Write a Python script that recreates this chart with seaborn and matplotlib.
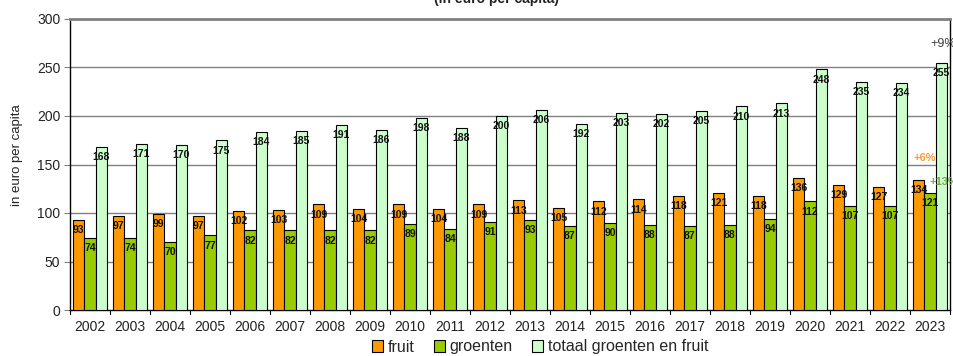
import matplotlib
matplotlib.use("Agg")
import matplotlib.pyplot as plt
import seaborn as sns
import pandas as pd
from matplotlib.patches import Patch

years = [str(y) for y in range(2002, 2024)]
fruit = [93, 97, 99, 97, 102, 103, 109, 104, 109, 104, 109, 113, 105, 112, 114, 118, 121, 118, 136, 129, 127, 134]
groenten = [74, 74, 70, 77, 82, 82, 82, 82, 89, 84, 91, 93, 87, 90, 88, 87, 88, 94, 112, 107, 107, 121]
totaal = [168, 171, 170, 175, 184, 185, 191, 186, 198, 188, 200, 206, 192, 203, 202, 205, 210, 213, 248, 235, 234, 255]
series_names = ["fruit", "groenten", "totaal groenten en fruit"]
series_colors = ["#FF9900", "#99CC00", "#CCFFCC"]

df = pd.DataFrame({
    "jaar": years * 3,
    "reeks": [series_names[0]] * len(years) + [series_names[1]] * len(years) + [series_names[2]] * len(years),
    "waarde": fruit + groenten + totaal,
})

sns.set_theme(style="white")
plt.rcParams["font.family"] = ["Liberation Sans", "DejaVu Sans"]

fig = plt.figure(figsize=(9.54, 3.56), dpi=100)
ax = fig.add_axes([70 / 954, 1 - 310 / 356, 880 / 954, 291 / 356])

sns.barplot(data=df, x="jaar", y="waarde", hue="reeks", palette=series_colors,
            width=0.85, gap=0, edgecolor="black", linewidth=0.8, saturation=1,
            legend=False, ax=ax, zorder=3)

ax.set_xlim(-0.5, len(years) - 0.5)
ax.set_ylim(0, 300)
ax.set_yticks([0, 50, 100, 150, 200, 250, 300])
ax.set_xticks(range(len(years)))
ax.set_xticklabels(years, fontsize=10, color="#222222")
ax.tick_params(axis="x", length=0, pad=7)
ax.tick_params(axis="y", labelsize=10, labelcolor="#222222", length=4, width=0.8, color="#808080", pad=3, direction="out", left=True)

# group separators on the category axis
for b in range(len(years) + 1):
    ax.plot([b - 0.5, b - 0.5], [0, -0.013], transform=ax.get_xaxis_transform(),
            color="black", lw=0.8, clip_on=False)

for yv in [50, 100, 150, 200, 250]:
    ax.axhline(yv, color="#808080", lw=1.0, zorder=1)

for side in ["left", "bottom", "right"]:
    ax.spines[side].set_color("black")
    ax.spines[side].set_linewidth(1.0)
ax.spines["top"].set_color("#808080")
ax.spines["top"].set_linewidth(2.0)

ax.set_xlabel("")
ax.set_ylabel("in euro per capita", fontsize=9.5, color="#222222")
ax.yaxis.set_label_coords(-0.0534, 0.533)

values = [fruit, groenten, totaal]
for cont, vals in zip(ax.containers, values):
    ax.bar_label(cont, labels=[str(v) for v in vals], label_type="edge", padding=-11,
                 fontsize=7.5, fontweight="bold", color="#111111", zorder=4)

ax.text(21.33, 274, "+9%", ha="center", va="center", fontsize=9, color="#404040", zorder=5)
ax.text(20.87, 157, "+6%", ha="center", va="center", fontsize=8, fontweight="bold", color="#FF9933", zorder=5)
ax.text(21.0, 132, "+13%", ha="left", va="center", fontsize=8, fontweight="bold", color="#77AA55", zorder=5, clip_on=False)

fig.text(497 / 954, 1 - 3 / 356, "(in euro per capita)", ha="center", va="baseline",
         fontsize=10, fontweight="bold", color="#222222")

handles = [Patch(facecolor=c, edgecolor="black", linewidth=0.8) for c in series_colors]
fig.legend(handles, series_names, loc="center", bbox_to_anchor=(540 / 954, 1 - 347 / 356),
           ncol=3, frameon=False, fontsize=11.5, handlelength=0.7, handleheight=0.7,
           handletextpad=0.3, columnspacing=1.2, borderpad=0)

fig.savefig("out.png", dpi=100)
